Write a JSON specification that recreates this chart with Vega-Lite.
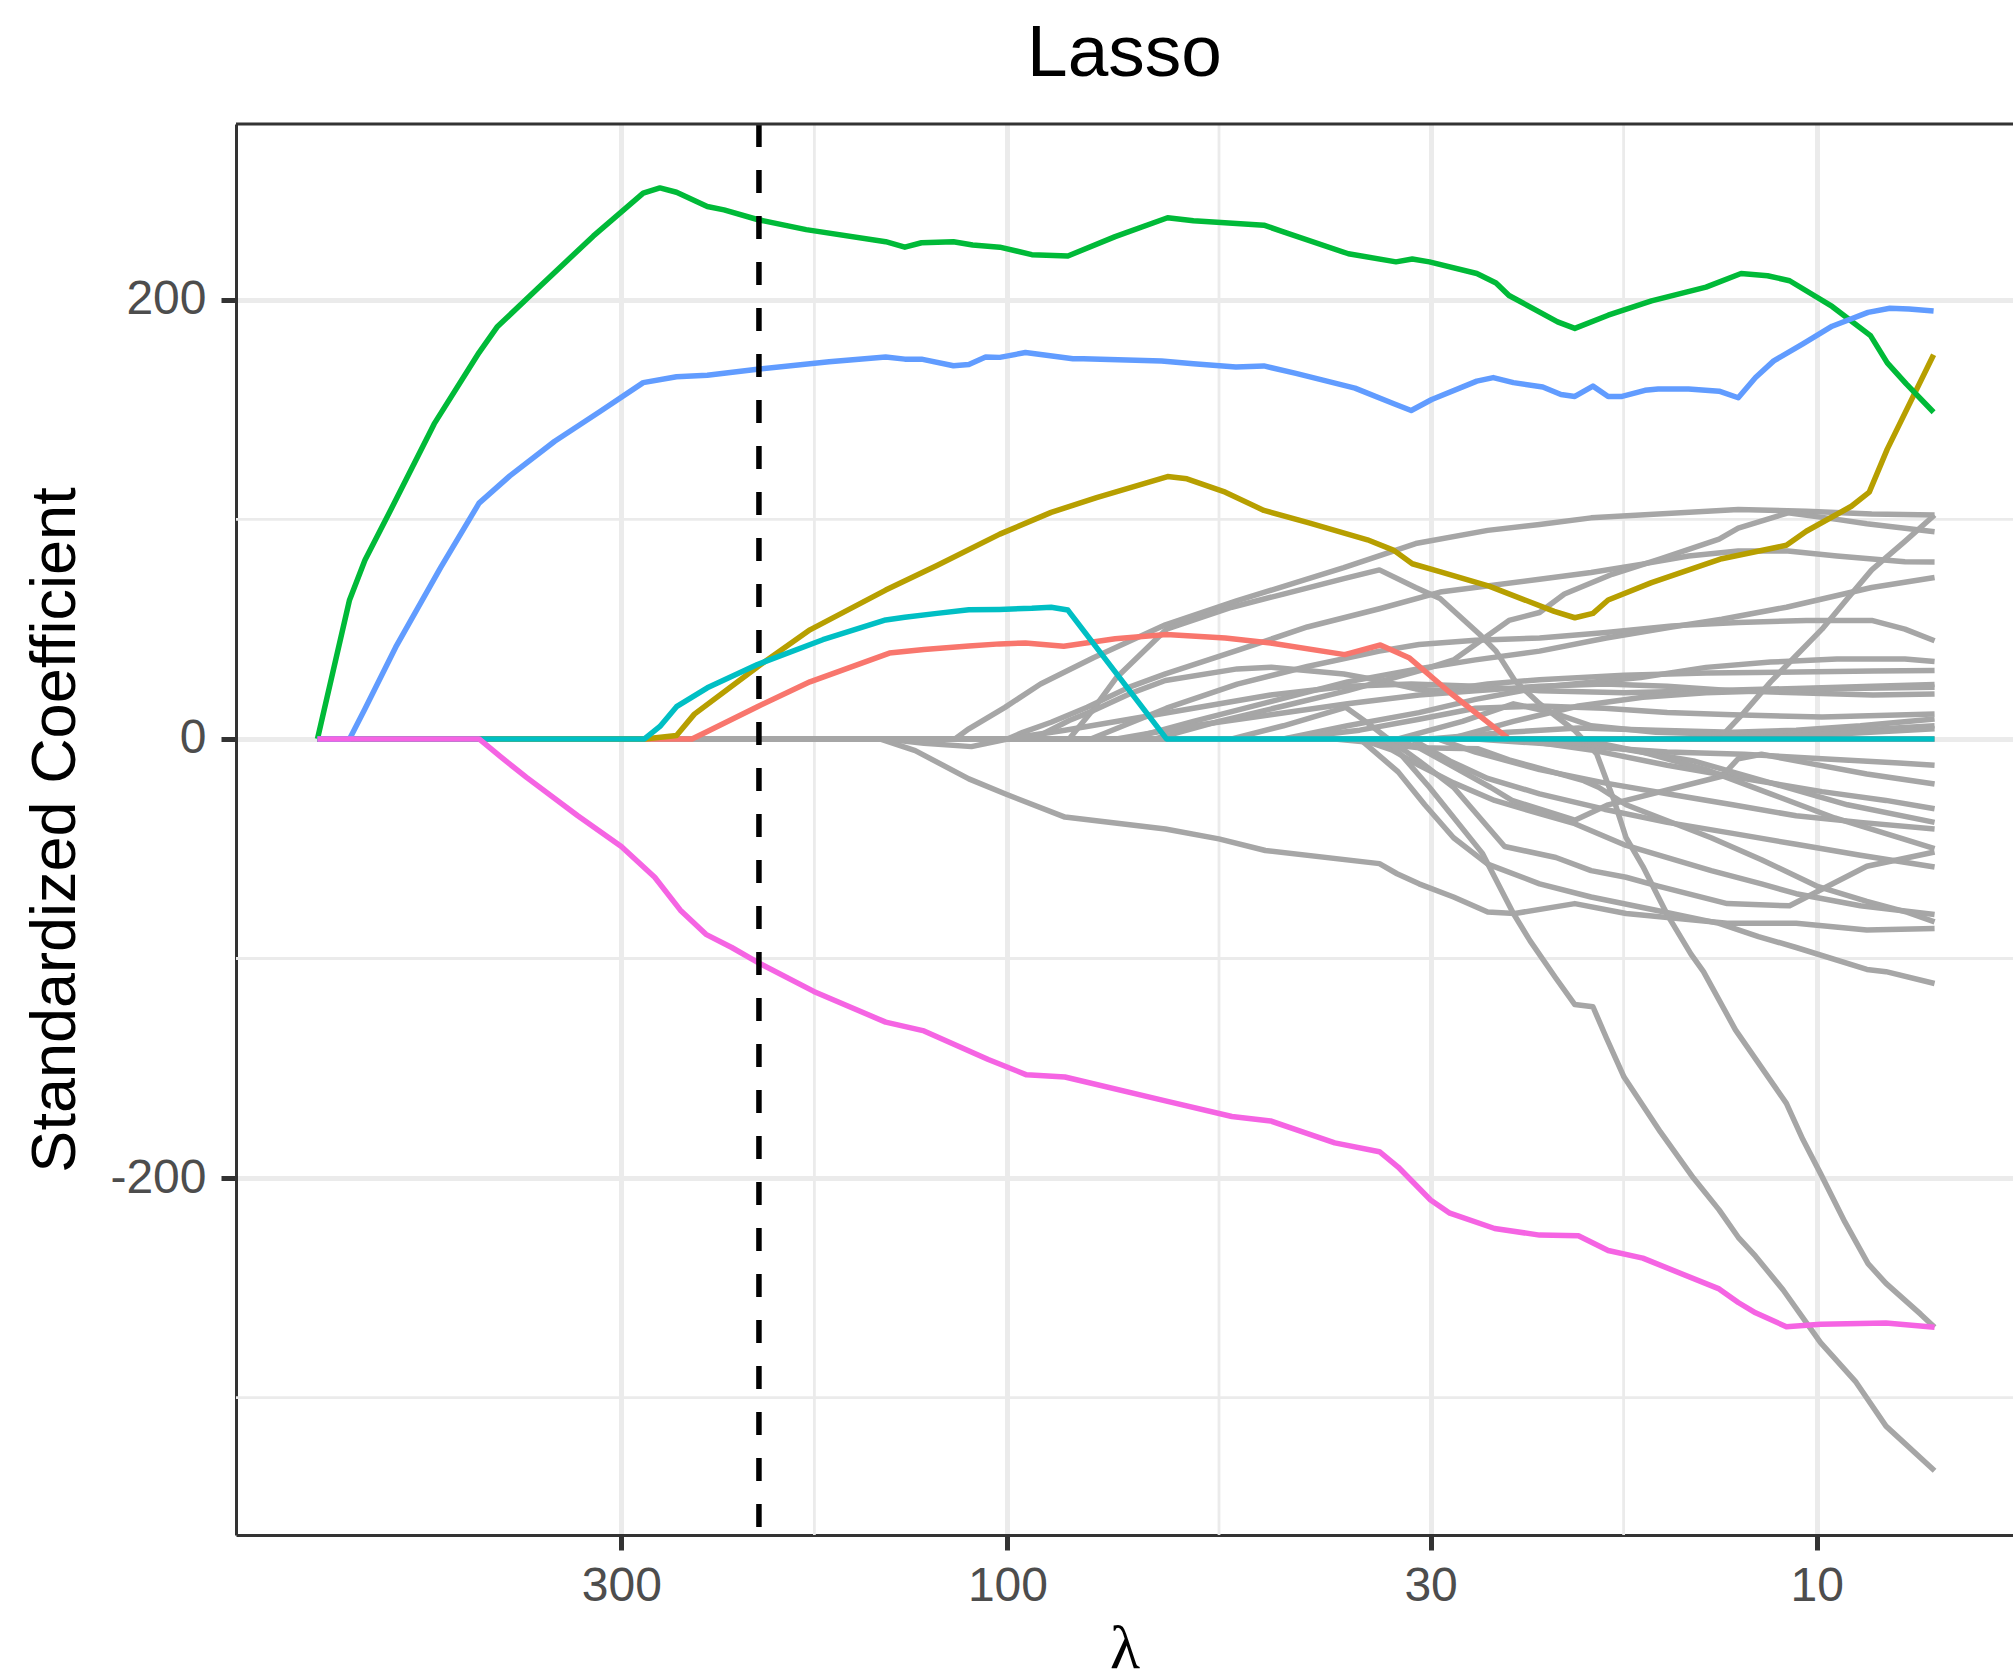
{
  "$schema": "https://vega.github.io/schema/vega-lite/v6.json",
  "width": 1777,
  "height": 1411,
  "autosize": {"type": "none"},
  "padding": {"left": 236, "top": 124, "right": 0, "bottom": 144},
  "background": "#FFFFFF",
  "title": {"text": "Lasso", "fontSize": 73, "font": "Liberation Sans", "fontWeight": "normal", "color": "#000000", "anchor": "middle", "offset": 30},
  "config": {
    "view": {"stroke": null},
    "axis": {
      "labelFont": "Liberation Sans", "labelFontSize": 48, "labelColor": "#4D4D4D",
      "tickColor": "#333333", "tickWidth": 5, "tickSize": 15,
      "domainColor": "#333333", "domainWidth": 3,
      "gridColor": "#EBEBEB", "gridWidth": 5,
      "titleColor": "#000000", "titleFontWeight": "normal",
      "labelOverlap": false, "labelFlush": false
    }
  },
  "datasets": {
    "minorx": [{"lambda": 173.2}, {"lambda": 54.77}, {"lambda": 17.32}],
    "minory": [{"coef": 100}, {"coef": -100}, {"coef": -300}],
    "cvline": [{"lambda": 202.8}],
    "border": [{"coef": 280.1}],
    "grey": [
      {"var":"g01","lambda":712.2,"coef":0},{"var":"g01","lambda":116.1,"coef":0},{"var":"g01","lambda":111.6,"coef":4.6},{"var":"g01","lambda":100.7,"coef":14.4},{"var":"g01","lambda":91.0,"coef":25},{"var":"g01","lambda":78.3,"coef":37},{"var":"g01","lambda":63.8,"coef":52},{"var":"g01","lambda":52.0,"coef":63},{"var":"g01","lambda":38.4,"coef":78},{"var":"g01","lambda":31.3,"coef":89},{"var":"g01","lambda":25.5,"coef":95},{"var":"g01","lambda":22.0,"coef":97.7},{"var":"g01","lambda":19.0,"coef":100.7},{"var":"g01","lambda":12.5,"coef":104.5},{"var":"g01","lambda":10.3,"coef":103.7},{"var":"g01","lambda":8.55,"coef":102.5},{"var":"g01","lambda":7.15,"coef":102},
      {"var":"g02","lambda":712.2,"coef":0},{"var":"g02","lambda":83.9,"coef":0},{"var":"g02","lambda":78.9,"coef":12},{"var":"g02","lambda":73.3,"coef":28},{"var":"g02","lambda":63.6,"coef":50},{"var":"g02","lambda":52.8,"coef":60},{"var":"g02","lambda":45.6,"coef":66},{"var":"g02","lambda":38.4,"coef":73},{"var":"g02","lambda":34.7,"coef":77},{"var":"g02","lambda":31.3,"coef":69},{"var":"g02","lambda":29.2,"coef":64},{"var":"g02","lambda":26.1,"coef":47.7},{"var":"g02","lambda":24.9,"coef":40},{"var":"g02","lambda":23.6,"coef":26.5},{"var":"g02","lambda":22.0,"coef":16},{"var":"g02","lambda":20.4,"coef":6.8},{"var":"g02","lambda":19.9,"coef":3.8},{"var":"g02","lambda":18.7,"coef":-6.8},{"var":"g02","lambda":17.8,"coef":-28},{"var":"g02","lambda":17.2,"coef":-45},{"var":"g02","lambda":16.4,"coef":-58},{"var":"g02","lambda":15.3,"coef":-80},{"var":"g02","lambda":14.3,"coef":-98},{"var":"g02","lambda":13.8,"coef":-106},{"var":"g02","lambda":12.6,"coef":-132.5},{"var":"g02","lambda":10.9,"coef":-166},{"var":"g02","lambda":10.4,"coef":-182.5},{"var":"g02","lambda":9.89,"coef":-198},{"var":"g02","lambda":9.23,"coef":-220},{"var":"g02","lambda":8.64,"coef":-239},{"var":"g02","lambda":8.21,"coef":-248},{"var":"g02","lambda":7.44,"coef":-262},{"var":"g02","lambda":7.15,"coef":-268},
      {"var":"g03","lambda":712.2,"coef":0},{"var":"g03","lambda":141.4,"coef":0},{"var":"g03","lambda":126.8,"coef":-2},{"var":"g03","lambda":110.8,"coef":-3.5},{"var":"g03","lambda":100,"coef":0},{"var":"g03","lambda":95.7,"coef":3},{"var":"g03","lambda":88.3,"coef":7.6},{"var":"g03","lambda":79.7,"coef":14.4},{"var":"g03","lambda":70.7,"coef":23.6},{"var":"g03","lambda":63.8,"coef":29.6},{"var":"g03","lambda":52.0,"coef":40.3},{"var":"g03","lambda":42.6,"coef":51},{"var":"g03","lambda":34.7,"coef":59.3},{"var":"g03","lambda":29.2,"coef":66.9},{"var":"g03","lambda":22.0,"coef":72.7},{"var":"g03","lambda":19.0,"coef":75.8},{"var":"g03","lambda":16.5,"coef":79.5},{"var":"g03","lambda":14.4,"coef":83.3},{"var":"g03","lambda":12.5,"coef":85.6},{"var":"g03","lambda":10.85,"coef":85.6},{"var":"g03","lambda":9.44,"coef":83.3},{"var":"g03","lambda":7.78,"coef":80.7},{"var":"g03","lambda":7.15,"coef":80.6},
      {"var":"g04","lambda":712.2,"coef":0},{"var":"g04","lambda":65.7,"coef":0},{"var":"g04","lambda":54.8,"coef":8},{"var":"g04","lambda":45.6,"coef":15},{"var":"g04","lambda":38.0,"coef":22},{"var":"g04","lambda":31.0,"coef":31},{"var":"g04","lambda":28.1,"coef":36},{"var":"g04","lambda":24.0,"coef":54},{"var":"g04","lambda":22.0,"coef":57.6},{"var":"g04","lambda":20.5,"coef":66},{"var":"g04","lambda":17.9,"coef":75},{"var":"g04","lambda":15.6,"coef":82},{"var":"g04","lambda":13.2,"coef":91},{"var":"g04","lambda":12.5,"coef":96},{"var":"g04","lambda":10.85,"coef":103},{"var":"g04","lambda":9.44,"coef":100},{"var":"g04","lambda":8.67,"coef":98},{"var":"g04","lambda":7.15,"coef":94.4},
      {"var":"g05","lambda":712.2,"coef":0},{"var":"g05","lambda":13.2,"coef":0},{"var":"g05","lambda":12.3,"coef":12},{"var":"g05","lambda":11.4,"coef":26},{"var":"g05","lambda":10.6,"coef":38},{"var":"g05","lambda":9.85,"coef":50},{"var":"g05","lambda":9.16,"coef":64},{"var":"g05","lambda":8.55,"coef":77},{"var":"g05","lambda":7.78,"coef":90},{"var":"g05","lambda":7.15,"coef":102},
      {"var":"g06","lambda":712.2,"coef":0},{"var":"g06","lambda":70.7,"coef":0},{"var":"g06","lambda":58.9,"coef":8},{"var":"g06","lambda":47.3,"coef":17},{"var":"g06","lambda":38.0,"coef":26},{"var":"g06","lambda":31.0,"coef":32},{"var":"g06","lambda":26.4,"coef":36},{"var":"g06","lambda":22.0,"coef":40},{"var":"g06","lambda":18.2,"coef":46},{"var":"g06","lambda":15.1,"coef":51},{"var":"g06","lambda":13.1,"coef":54.5},{"var":"g06","lambda":10.9,"coef":60},{"var":"g06","lambda":8.55,"coef":69},{"var":"g06","lambda":7.15,"coef":73.5},
      {"var":"g07","lambda":712.2,"coef":0},{"var":"g07","lambda":78.9,"coef":0},{"var":"g07","lambda":63.6,"coef":14},{"var":"g07","lambda":52.0,"coef":25},{"var":"g07","lambda":42.6,"coef":33},{"var":"g07","lambda":34.7,"coef":40},{"var":"g07","lambda":31.0,"coef":43},{"var":"g07","lambda":26.4,"coef":45},{"var":"g07","lambda":22.0,"coef":46},{"var":"g07","lambda":18.2,"coef":48.5},{"var":"g07","lambda":15.1,"coef":51.5},{"var":"g07","lambda":12.5,"coef":53},{"var":"g07","lambda":10.3,"coef":54},{"var":"g07","lambda":8.55,"coef":54},{"var":"g07","lambda":7.78,"coef":50},{"var":"g07","lambda":7.15,"coef":44.7},
      {"var":"g08","lambda":712.2,"coef":0},{"var":"g08","lambda":45.6,"coef":0},{"var":"g08","lambda":38.0,"coef":6},{"var":"g08","lambda":31.0,"coef":12},{"var":"g08","lambda":26.4,"coef":18},{"var":"g08","lambda":22.0,"coef":23.5},{"var":"g08","lambda":16.5,"coef":28},{"var":"g08","lambda":13.7,"coef":32.6},{"var":"g08","lambda":11.4,"coef":35},{"var":"g08","lambda":9.44,"coef":36.4},{"var":"g08","lambda":7.78,"coef":36.4},{"var":"g08","lambda":7.15,"coef":35.3},
      {"var":"g09","lambda":712.2,"coef":0},{"var":"g09","lambda":93.0,"coef":0},{"var":"g09","lambda":83.9,"coef":8.4},{"var":"g09","lambda":78.3,"coef":12.9},{"var":"g09","lambda":70.7,"coef":20.5},{"var":"g09","lambda":63.8,"coef":26.6},{"var":"g09","lambda":52.0,"coef":31.9},{"var":"g09","lambda":47.2,"coef":32.7},{"var":"g09","lambda":38.4,"coef":29.6},{"var":"g09","lambda":34.7,"coef":26.6},{"var":"g09","lambda":31.3,"coef":22.8},{"var":"g09","lambda":29.2,"coef":22},{"var":"g09","lambda":25.5,"coef":25},{"var":"g09","lambda":22.0,"coef":27},{"var":"g09","lambda":17.3,"coef":29},{"var":"g09","lambda":13.7,"coef":30},{"var":"g09","lambda":10.6,"coef":30.5},{"var":"g09","lambda":8.52,"coef":31},{"var":"g09","lambda":7.15,"coef":31.2},
      {"var":"g10","lambda":712.2,"coef":0},{"var":"g10","lambda":100,"coef":0},{"var":"g10","lambda":84.9,"coef":4},{"var":"g10","lambda":70.7,"coef":9},{"var":"g10","lambda":58.9,"coef":14},{"var":"g10","lambda":47.3,"coef":20},{"var":"g10","lambda":38.0,"coef":24},{"var":"g10","lambda":31.7,"coef":25},{"var":"g10","lambda":26.4,"coef":24},{"var":"g10","lambda":22.0,"coef":22},{"var":"g10","lambda":17.3,"coef":21},{"var":"g10","lambda":13.7,"coef":22},{"var":"g10","lambda":10.6,"coef":23},{"var":"g10","lambda":8.52,"coef":24},{"var":"g10","lambda":7.15,"coef":24.8},
      {"var":"g11","lambda":712.2,"coef":0},{"var":"g11","lambda":73.3,"coef":0},{"var":"g11","lambda":58.9,"coef":6},{"var":"g11","lambda":47.3,"coef":11},{"var":"g11","lambda":38.0,"coef":16},{"var":"g11","lambda":31.0,"coef":20},{"var":"g11","lambda":26.4,"coef":22},{"var":"g11","lambda":22.0,"coef":24},{"var":"g11","lambda":18.3,"coef":25},{"var":"g11","lambda":15.3,"coef":24},{"var":"g11","lambda":12.7,"coef":22},{"var":"g11","lambda":10.6,"coef":21},{"var":"g11","lambda":8.52,"coef":20},{"var":"g11","lambda":7.15,"coef":20.5},
      {"var":"g12","lambda":712.2,"coef":0},{"var":"g12","lambda":45.6,"coef":0},{"var":"g12","lambda":36.7,"coef":4},{"var":"g12","lambda":31.0,"coef":9},{"var":"g12","lambda":26.4,"coef":14},{"var":"g12","lambda":22.0,"coef":15},{"var":"g12","lambda":18.3,"coef":14},{"var":"g12","lambda":15.3,"coef":12},{"var":"g12","lambda":12.7,"coef":11},{"var":"g12","lambda":9.85,"coef":10},{"var":"g12","lambda":7.15,"coef":11.4},
      {"var":"g13","lambda":712.2,"coef":0},{"var":"g13","lambda":30.1,"coef":0},{"var":"g13","lambda":24.1,"coef":3},{"var":"g13","lambda":19.7,"coef":5},{"var":"g13","lambda":15.8,"coef":4},{"var":"g13","lambda":12.7,"coef":3},{"var":"g13","lambda":10.6,"coef":4},{"var":"g13","lambda":8.83,"coef":6},{"var":"g13","lambda":7.15,"coef":9.1},
      {"var":"g14","lambda":712.2,"coef":0},{"var":"g14","lambda":32.9,"coef":0},{"var":"g14","lambda":27.4,"coef":8},{"var":"g14","lambda":23.7,"coef":16},{"var":"g14","lambda":21.2,"coef":12},{"var":"g14","lambda":19.0,"coef":6},{"var":"g14","lambda":15.8,"coef":3},{"var":"g14","lambda":12.7,"coef":2},{"var":"g14","lambda":9.85,"coef":3},{"var":"g14","lambda":7.15,"coef":6},
      {"var":"g15","lambda":712.2,"coef":0},{"var":"g15","lambda":15.3,"coef":0},{"var":"g15","lambda":11.4,"coef":1},{"var":"g15","lambda":9.16,"coef":2.5},{"var":"g15","lambda":7.15,"coef":4.6},
      {"var":"g16","lambda":712.2,"coef":0},{"var":"g16","lambda":28.4,"coef":0},{"var":"g16","lambda":23.7,"coef":8},{"var":"g16","lambda":19.7,"coef":15},{"var":"g16","lambda":16.4,"coef":19},{"var":"g16","lambda":13.7,"coef":21},{"var":"g16","lambda":11.4,"coef":22},{"var":"g16","lambda":9.16,"coef":23},{"var":"g16","lambda":7.15,"coef":23.6},
      {"var":"g17","lambda":712.2,"coef":0},{"var":"g17","lambda":143.8,"coef":0},{"var":"g17","lambda":130.0,"coef":-5.3},{"var":"g17","lambda":111.6,"coef":-18.2},{"var":"g17","lambda":100.7,"coef":-25},{"var":"g17","lambda":84.9,"coef":-35.6},{"var":"g17","lambda":63.8,"coef":-41},{"var":"g17","lambda":54.8,"coef":-45.5},{"var":"g17","lambda":48.0,"coef":-50.8},{"var":"g17","lambda":34.7,"coef":-56.8},{"var":"g17","lambda":33.0,"coef":-61.4},{"var":"g17","lambda":31.0,"coef":-66},{"var":"g17","lambda":28.1,"coef":-72},{"var":"g17","lambda":25.5,"coef":-78.8},{"var":"g17","lambda":23.6,"coef":-79.5},{"var":"g17","lambda":19.9,"coef":-75},{"var":"g17","lambda":17.2,"coef":-79.5},{"var":"g17","lambda":12.9,"coef":-84},{"var":"g17","lambda":10.6,"coef":-84},{"var":"g17","lambda":8.67,"coef":-87},{"var":"g17","lambda":7.15,"coef":-86.4},
      {"var":"g18","lambda":712.2,"coef":0},{"var":"g18","lambda":36.7,"coef":0},{"var":"g18","lambda":32.9,"coef":-15},{"var":"g18","lambda":30.5,"coef":-30},{"var":"g18","lambda":28.1,"coef":-45},{"var":"g18","lambda":25.5,"coef":-57},{"var":"g18","lambda":22.0,"coef":-66},{"var":"g18","lambda":19.0,"coef":-72},{"var":"g18","lambda":15.8,"coef":-78},{"var":"g18","lambda":13.2,"coef":-84},{"var":"g18","lambda":11.8,"coef":-90},{"var":"g18","lambda":10.6,"coef":-95},{"var":"g18","lambda":8.67,"coef":-105},{"var":"g18","lambda":8.21,"coef":-106},{"var":"g18","lambda":7.15,"coef":-111.4},
      {"var":"g19","lambda":712.2,"coef":0},{"var":"g19","lambda":39.4,"coef":0},{"var":"g19","lambda":34.7,"coef":-2},{"var":"g19","lambda":31.0,"coef":-4},{"var":"g19","lambda":26.2,"coef":-4.5},{"var":"g19","lambda":24.0,"coef":-9.5},{"var":"g19","lambda":19.4,"coef":-19},{"var":"g19","lambda":18.6,"coef":-22},{"var":"g19","lambda":17.2,"coef":-30},{"var":"g19","lambda":13.5,"coef":-45},{"var":"g19","lambda":11.7,"coef":-55},{"var":"g19","lambda":10.0,"coef":-67},{"var":"g19","lambda":8.67,"coef":-74},{"var":"g19","lambda":7.72,"coef":-79},{"var":"g19","lambda":7.15,"coef":-83.3},
      {"var":"g20","lambda":712.2,"coef":0},{"var":"g20","lambda":36.7,"coef":0},{"var":"g20","lambda":33.5,"coef":-5},{"var":"g20","lambda":31.0,"coef":-12},{"var":"g20","lambda":28.1,"coef":-20},{"var":"g20","lambda":25.0,"coef":-28},{"var":"g20","lambda":22.0,"coef":-34},{"var":"g20","lambda":19.9,"coef":-38.6},{"var":"g20","lambda":17.2,"coef":-48.5},{"var":"g20","lambda":13.5,"coef":-60},{"var":"g20","lambda":11.7,"coef":-66},{"var":"g20","lambda":10.6,"coef":-70.5},{"var":"g20","lambda":8.83,"coef":-76},{"var":"g20","lambda":7.15,"coef":-80},
      {"var":"g21","lambda":712.2,"coef":0},{"var":"g21","lambda":52.8,"coef":0},{"var":"g21","lambda":45.6,"coef":6},{"var":"g21","lambda":38.2,"coef":14.4},{"var":"g21","lambda":36.1,"coef":8},{"var":"g21","lambda":34.1,"coef":1},{"var":"g21","lambda":31.0,"coef":-10},{"var":"g21","lambda":28.1,"coef":-22},{"var":"g21","lambda":24.3,"coef":-49},{"var":"g21","lambda":21.0,"coef":-54},{"var":"g21","lambda":19.0,"coef":-60},{"var":"g21","lambda":17.2,"coef":-63},{"var":"g21","lambda":15.7,"coef":-67},{"var":"g21","lambda":12.9,"coef":-75},{"var":"g21","lambda":10.8,"coef":-76},{"var":"g21","lambda":8.67,"coef":-58},{"var":"g21","lambda":7.15,"coef":-51.5},
      {"var":"g22","lambda":712.2,"coef":0},{"var":"g22","lambda":33.5,"coef":0},{"var":"g22","lambda":31.0,"coef":-4},{"var":"g22","lambda":25.3,"coef":-22},{"var":"g22","lambda":23.8,"coef":-28},{"var":"g22","lambda":19.9,"coef":-37},{"var":"g22","lambda":18.1,"coef":-30},{"var":"g22","lambda":13.1,"coef":-17},{"var":"g22","lambda":12.5,"coef":-9},{"var":"g22","lambda":11.7,"coef":-7},{"var":"g22","lambda":10.6,"coef":-10},{"var":"g22","lambda":8.67,"coef":-16},{"var":"g22","lambda":7.15,"coef":-20.5},
      {"var":"g23","lambda":712.2,"coef":0},{"var":"g23","lambda":26.4,"coef":0},{"var":"g23","lambda":22.0,"coef":-2},{"var":"g23","lambda":18.3,"coef":-4},{"var":"g23","lambda":15.3,"coef":-6},{"var":"g23","lambda":12.3,"coef":-7},{"var":"g23","lambda":9.85,"coef":-9},{"var":"g23","lambda":7.91,"coef":-11},{"var":"g23","lambda":7.15,"coef":-12},
      {"var":"g24","lambda":712.2,"coef":0},{"var":"g24","lambda":23.7,"coef":0},{"var":"g24","lambda":19.0,"coef":-5},{"var":"g24","lambda":15.3,"coef":-12},{"var":"g24","lambda":12.3,"coef":-18},{"var":"g24","lambda":9.85,"coef":-24},{"var":"g24","lambda":8.21,"coef":-28},{"var":"g24","lambda":7.15,"coef":-31.8},
      {"var":"g25","lambda":712.2,"coef":0},{"var":"g25","lambda":22.0,"coef":0},{"var":"g25","lambda":17.7,"coef":-4},{"var":"g25","lambda":14.2,"coef":-10},{"var":"g25","lambda":11.4,"coef":-20},{"var":"g25","lambda":9.16,"coef":-30},{"var":"g25","lambda":7.15,"coef":-38},
      {"var":"g26","lambda":712.2,"coef":0},{"var":"g26","lambda":29.4,"coef":0},{"var":"g26","lambda":26.4,"coef":-6},{"var":"g26","lambda":22.0,"coef":-14},{"var":"g26","lambda":18.3,"coef":-20},{"var":"g26","lambda":15.3,"coef":-25},{"var":"g26","lambda":12.7,"coef":-30},{"var":"g26","lambda":10.6,"coef":-35},{"var":"g26","lambda":8.83,"coef":-38},{"var":"g26","lambda":7.15,"coef":-41},
      {"var":"g27","lambda":712.2,"coef":0},{"var":"g27","lambda":19.7,"coef":0},{"var":"g27","lambda":16.4,"coef":-6},{"var":"g27","lambda":13.7,"coef":-14},{"var":"g27","lambda":11.4,"coef":-25},{"var":"g27","lambda":9.50,"coef":-36},{"var":"g27","lambda":7.91,"coef":-45},{"var":"g27","lambda":7.15,"coef":-50},
      {"var":"g28","lambda":712.2,"coef":0},{"var":"g28","lambda":31.7,"coef":0},{"var":"g28","lambda":28.4,"coef":-10},{"var":"g28","lambda":25.5,"coef":-18},{"var":"g28","lambda":22.0,"coef":-25},{"var":"g28","lambda":18.3,"coef":-32},{"var":"g28","lambda":15.3,"coef":-38},{"var":"g28","lambda":12.7,"coef":-43},{"var":"g28","lambda":10.6,"coef":-48},{"var":"g28","lambda":8.83,"coef":-53},{"var":"g28","lambda":7.15,"coef":-58.3},
      {"var":"g29","lambda":712.2,"coef":0},{"var":"g29","lambda":36.7,"coef":0},{"var":"g29","lambda":34.7,"coef":-1},{"var":"g29","lambda":33.5,"coef":-2.3},{"var":"g29","lambda":30.1,"coef":-22},{"var":"g29","lambda":25.9,"coef":-52},{"var":"g29","lambda":23.7,"coef":-79.5},{"var":"g29","lambda":22.6,"coef":-92},{"var":"g29","lambda":21.0,"coef":-109},{"var":"g29","lambda":19.9,"coef":-121},{"var":"g29","lambda":18.9,"coef":-122},{"var":"g29","lambda":18.2,"coef":-136},{"var":"g29","lambda":17.3,"coef":-154},{"var":"g29","lambda":15.6,"coef":-179},{"var":"g29","lambda":14.2,"coef":-200},{"var":"g29","lambda":13.2,"coef":-214.5},{"var":"g29","lambda":12.5,"coef":-227},{"var":"g29","lambda":11.9,"coef":-235.6},{"var":"g29","lambda":11.0,"coef":-251},{"var":"g29","lambda":10.2,"coef":-268},{"var":"g29","lambda":9.89,"coef":-275},{"var":"g29","lambda":8.94,"coef":-293},{"var":"g29","lambda":8.21,"coef":-313},{"var":"g29","lambda":7.15,"coef":-333.3}
    ],
    "colored": [
      {"var":"c1","lambda":712.2,"coef":0},{"var":"c1","lambda":245.4,"coef":0},{"var":"c1","lambda":234.9,"coef":3.4},{"var":"c1","lambda":203.7,"coef":14.7},{"var":"c1","lambda":175.4,"coef":26},{"var":"c1","lambda":139.9,"coef":39.1},{"var":"c1","lambda":126.8,"coef":40.7},{"var":"c1","lambda":111.6,"coef":42.3},{"var":"c1","lambda":102.2,"coef":43.3},{"var":"c1","lambda":95.0,"coef":43.7},{"var":"c1","lambda":85.2,"coef":42.2},{"var":"c1","lambda":73.6,"coef":45.6},{"var":"c1","lambda":63.6,"coef":47.6},{"var":"c1","lambda":53.8,"coef":46},{"var":"c1","lambda":47.3,"coef":43.7},{"var":"c1","lambda":38.3,"coef":38.4},{"var":"c1","lambda":34.6,"coef":42.8},{"var":"c1","lambda":31.9,"coef":37},{"var":"c1","lambda":28.3,"coef":20.7},{"var":"c1","lambda":24.0,"coef":0},{"var":"c1","lambda":7.15,"coef":0},
      {"var":"c2","lambda":712.2,"coef":0},{"var":"c2","lambda":280.9,"coef":0},{"var":"c2","lambda":256.4,"coef":1.6},{"var":"c2","lambda":243.7,"coef":11.3},{"var":"c2","lambda":203.7,"coef":32.8},{"var":"c2","lambda":175.4,"coef":49.7},{"var":"c2","lambda":141.4,"coef":67.8},{"var":"c2","lambda":122.2,"coef":79},{"var":"c2","lambda":102.2,"coef":93.3},{"var":"c2","lambda":88.3,"coef":103.2},{"var":"c2","lambda":77.6,"coef":109.9},{"var":"c2","lambda":63.4,"coef":119.5},{"var":"c2","lambda":60.0,"coef":118.5},{"var":"c2","lambda":53.8,"coef":112.4},{"var":"c2","lambda":48.2,"coef":104.1},{"var":"c2","lambda":42.4,"coef":98.4},{"var":"c2","lambda":35.9,"coef":90.7},{"var":"c2","lambda":33.3,"coef":85.9},{"var":"c2","lambda":31.6,"coef":79.8},{"var":"c2","lambda":29.3,"coef":76.3},{"var":"c2","lambda":25.4,"coef":69.6},{"var":"c2","lambda":21.1,"coef":58.1},{"var":"c2","lambda":19.9,"coef":55.2},{"var":"c2","lambda":18.9,"coef":57.2},{"var":"c2","lambda":18.1,"coef":63.3},{"var":"c2","lambda":16.0,"coef":71.2},{"var":"c2","lambda":13.1,"coef":82.1},{"var":"c2","lambda":10.9,"coef":88.2},{"var":"c2","lambda":10.3,"coef":94.6},{"var":"c2","lambda":9.06,"coef":106},{"var":"c2","lambda":8.61,"coef":112.4},{"var":"c2","lambda":8.18,"coef":132},{"var":"c2","lambda":7.17,"coef":175},
      {"var":"c3","lambda":712.2,"coef":0},{"var":"c3","lambda":650.1,"coef":63.3},{"var":"c3","lambda":622.3,"coef":81.4},{"var":"c3","lambda":580.6,"coef":103},{"var":"c3","lambda":511.0,"coef":143.5},{"var":"c3","lambda":449.7,"coef":176},{"var":"c3","lambda":427.3,"coef":187.6},{"var":"c3","lambda":376.1,"coef":207},{"var":"c3","lambda":325.0,"coef":229},{"var":"c3","lambda":281.9,"coef":248.6},{"var":"c3","lambda":268.8,"coef":251},{"var":"c3","lambda":256.4,"coef":249},{"var":"c3","lambda":234.9,"coef":242.5},{"var":"c3","lambda":224.0,"coef":241},{"var":"c3","lambda":203.7,"coef":236.6},{"var":"c3","lambda":177.3,"coef":232},{"var":"c3","lambda":141.4,"coef":226.5},{"var":"c3","lambda":133.9,"coef":224},{"var":"c3","lambda":127.7,"coef":226},{"var":"c3","lambda":116.6,"coef":226.5},{"var":"c3","lambda":110.4,"coef":225},{"var":"c3","lambda":102.2,"coef":224},{"var":"c3","lambda":93.3,"coef":220.6},{"var":"c3","lambda":84.2,"coef":220},{"var":"c3","lambda":73.6,"coef":228.8},{"var":"c3","lambda":63.4,"coef":237.4},{"var":"c3","lambda":58.9,"coef":236},{"var":"c3","lambda":48.2,"coef":234},{"var":"c3","lambda":45.6,"coef":231},{"var":"c3","lambda":37.9,"coef":221},{"var":"c3","lambda":33.1,"coef":217.3},{"var":"c3","lambda":31.6,"coef":218.6},{"var":"c3","lambda":30.1,"coef":217.3},{"var":"c3","lambda":26.3,"coef":212},{"var":"c3","lambda":24.9,"coef":207.7},{"var":"c3","lambda":24.0,"coef":202},{"var":"c3","lambda":20.9,"coef":190},{"var":"c3","lambda":19.9,"coef":187},{"var":"c3","lambda":18.1,"coef":193},{"var":"c3","lambda":16.0,"coef":199.5},{"var":"c3","lambda":13.7,"coef":205.8},{"var":"c3","lambda":12.4,"coef":212},{"var":"c3","lambda":11.5,"coef":211},{"var":"c3","lambda":10.8,"coef":208.7},{"var":"c3","lambda":9.57,"coef":197},{"var":"c3","lambda":8.58,"coef":183.7},{"var":"c3","lambda":8.18,"coef":171.3},{"var":"c3","lambda":7.75,"coef":161.7},{"var":"c3","lambda":7.17,"coef":148.8},
      {"var":"c4","lambda":712.2,"coef":0},{"var":"c4","lambda":280.9,"coef":0},{"var":"c4","lambda":268.8,"coef":5.7},{"var":"c4","lambda":256.4,"coef":14.7},{"var":"c4","lambda":234.9,"coef":23.3},{"var":"c4","lambda":203.7,"coef":33.9},{"var":"c4","lambda":169.1,"coef":45.2},{"var":"c4","lambda":141.4,"coef":54.2},{"var":"c4","lambda":133.9,"coef":55.4},{"var":"c4","lambda":122.2,"coef":57.2},{"var":"c4","lambda":111.6,"coef":58.8},{"var":"c4","lambda":102.2,"coef":59},{"var":"c4","lambda":93.3,"coef":59.5},{"var":"c4","lambda":88.3,"coef":60},{"var":"c4","lambda":84.2,"coef":58.7},{"var":"c4","lambda":63.6,"coef":0},{"var":"c4","lambda":7.15,"coef":0},
      {"var":"c5","lambda":712.2,"coef":0},{"var":"c5","lambda":650.1,"coef":0},{"var":"c5","lambda":622.3,"coef":13.6},{"var":"c5","lambda":570.1,"coef":41.8},{"var":"c5","lambda":501.7,"coef":78},{"var":"c5","lambda":449.7,"coef":107.4},{"var":"c5","lambda":412.0,"coef":119.8},{"var":"c5","lambda":362.6,"coef":135.6},{"var":"c5","lambda":319.1,"coef":149},{"var":"c5","lambda":281.9,"coef":162.3},{"var":"c5","lambda":256.4,"coef":165},{"var":"c5","lambda":234.9,"coef":165.7},{"var":"c5","lambda":203.7,"coef":168.4},{"var":"c5","lambda":166.1,"coef":171.8},{"var":"c5","lambda":141.4,"coef":174},{"var":"c5","lambda":133.9,"coef":173},{"var":"c5","lambda":127.7,"coef":173},{"var":"c5","lambda":116.6,"coef":170},{"var":"c5","lambda":111.6,"coef":170.6},{"var":"c5","lambda":106.4,"coef":174},{"var":"c5","lambda":102.2,"coef":173.8},{"var":"c5","lambda":95.0,"coef":176},{"var":"c5","lambda":83.0,"coef":173.2},{"var":"c5","lambda":80.6,"coef":173.2},{"var":"c5","lambda":64.5,"coef":172.2},{"var":"c5","lambda":58.9,"coef":170.9},{"var":"c5","lambda":52.2,"coef":169.4},{"var":"c5","lambda":48.2,"coef":169.9},{"var":"c5","lambda":44.0,"coef":166.5},{"var":"c5","lambda":37.2,"coef":159.8},{"var":"c5","lambda":33.3,"coef":152.7},{"var":"c5","lambda":31.7,"coef":149.6},{"var":"c5","lambda":29.9,"coef":154.6},{"var":"c5","lambda":26.3,"coef":163},{"var":"c5","lambda":25.1,"coef":164.6},{"var":"c5","lambda":23.7,"coef":162.3},{"var":"c5","lambda":21.8,"coef":160.3},{"var":"c5","lambda":20.7,"coef":156.9},{"var":"c5","lambda":19.9,"coef":156},{"var":"c5","lambda":18.9,"coef":160.7},{"var":"c5","lambda":18.1,"coef":156},{"var":"c5","lambda":17.4,"coef":156},{"var":"c5","lambda":16.3,"coef":158.8},{"var":"c5","lambda":15.7,"coef":159.4},{"var":"c5","lambda":14.4,"coef":159.4},{"var":"c5","lambda":13.2,"coef":158.4},{"var":"c5","lambda":12.5,"coef":155.4},{"var":"c5","lambda":11.9,"coef":164.6},{"var":"c5","lambda":11.3,"coef":172.2},{"var":"c5","lambda":10.4,"coef":180},{"var":"c5","lambda":9.57,"coef":188},{"var":"c5","lambda":8.64,"coef":194.3},{"var":"c5","lambda":8.12,"coef":196.2},{"var":"c5","lambda":7.69,"coef":195.8},{"var":"c5","lambda":7.17,"coef":194.9},
      {"var":"c6","lambda":712.2,"coef":0},{"var":"c6","lambda":449.7,"coef":0},{"var":"c6","lambda":422.7,"coef":-8.2},{"var":"c6","lambda":392.9,"coef":-17.5},{"var":"c6","lambda":339.6,"coef":-35},{"var":"c6","lambda":300,"coef":-49},{"var":"c6","lambda":272.8,"coef":-63},{"var":"c6","lambda":253.6,"coef":-78},{"var":"c6","lambda":235.8,"coef":-89},{"var":"c6","lambda":219.1,"coef":-95},{"var":"c6","lambda":203.0,"coef":-102},{"var":"c6","lambda":173.5,"coef":-115},{"var":"c6","lambda":141.4,"coef":-129},{"var":"c6","lambda":126.8,"coef":-133},{"var":"c6","lambda":105.6,"coef":-146},{"var":"c6","lambda":94.7,"coef":-153},{"var":"c6","lambda":84.9,"coef":-154},{"var":"c6","lambda":63.6,"coef":-165},{"var":"c6","lambda":52.8,"coef":-172},{"var":"c6","lambda":47.3,"coef":-174},{"var":"c6","lambda":44.0,"coef":-178},{"var":"c6","lambda":39.4,"coef":-184},{"var":"c6","lambda":34.7,"coef":-188},{"var":"c6","lambda":32.9,"coef":-195},{"var":"c6","lambda":30.0,"coef":-210},{"var":"c6","lambda":28.4,"coef":-216},{"var":"c6","lambda":25.0,"coef":-223},{"var":"c6","lambda":22.0,"coef":-226},{"var":"c6","lambda":19.7,"coef":-226.3},{"var":"c6","lambda":18.1,"coef":-233},{"var":"c6","lambda":16.4,"coef":-236.5},{"var":"c6","lambda":13.2,"coef":-250.5},{"var":"c6","lambda":12.5,"coef":-256.7},{"var":"c6","lambda":11.9,"coef":-261.4},{"var":"c6","lambda":10.9,"coef":-267.7},{"var":"c6","lambda":9.89,"coef":-266.6},{"var":"c6","lambda":8.21,"coef":-266},{"var":"c6","lambda":7.15,"coef":-268}
    ]
  },
  "layer": [
    {
      "data": {"name": "minorx"},
      "mark": {"type": "rule", "color": "#EBEBEB", "strokeWidth": 2.8},
      "encoding": {
        "x": {"field": "lambda", "type": "quantitative", "title": "λ",
              "scale": {"type": "log", "domain": [5.72, 898], "reverse": true, "nice": false, "zero": false},
              "axis": {"values": [300, 100, 30, 10], "labelExpr": "'' + datum.value", "labelPadding": 12, "titleFont": "Liberation Serif", "titleFontSize": 62, "titlePadding": 8}}
      }
    },
    {
      "data": {"name": "minory"},
      "mark": {"type": "rule", "color": "#EBEBEB", "strokeWidth": 2.8},
      "encoding": {
        "y": {"field": "coef", "type": "quantitative", "title": "Standardized Coefficient",
              "scale": {"domain": [-362.6, 280.1], "nice": false, "zero": false},
              "axis": {"values": [-200, 0, 200], "labelExpr": "'' + datum.value", "labelPadding": 15, "titleFont": "Liberation Sans", "titleFontSize": 63, "titlePadding": 22}}
      }
    },
    {
      "data": {"name": "grey"},
      "mark": {"type": "line", "color": "#A6A6A6", "strokeWidth": 5.5, "strokeJoin": "round"},
      "encoding": {
        "x": {"field": "lambda", "type": "quantitative", "title": "λ"},
        "y": {"field": "coef", "type": "quantitative", "title": "Standardized Coefficient"},
        "detail": {"field": "var", "type": "nominal"}
      }
    },
    {
      "data": {"name": "colored"},
      "mark": {"type": "line", "strokeWidth": 5.5, "strokeJoin": "round"},
      "encoding": {
        "x": {"field": "lambda", "type": "quantitative", "title": "λ"},
        "y": {"field": "coef", "type": "quantitative", "title": "Standardized Coefficient"},
        "color": {"field": "var", "type": "nominal", "legend": null,
                  "scale": {"domain": ["c1", "c2", "c3", "c4", "c5", "c6"], "range": ["#F8766D", "#B79F00", "#00BA38", "#00BFC4", "#619CFF", "#F564E3"]}}
      }
    },
    {
      "data": {"name": "cvline"},
      "mark": {"type": "rule", "color": "#000000", "strokeWidth": 5.5, "strokeDash": [23, 23]},
      "encoding": {"x": {"field": "lambda", "type": "quantitative", "title": "λ"}}
    },
    {
      "data": {"name": "border"},
      "mark": {"type": "rule", "color": "#333333", "strokeWidth": 3},
      "encoding": {"y": {"field": "coef", "type": "quantitative", "title": "Standardized Coefficient"}}
    }
  ]
}
